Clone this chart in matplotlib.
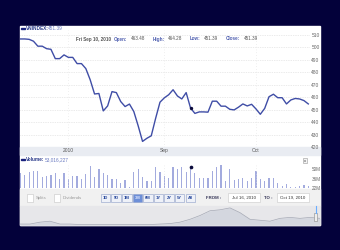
import matplotlib
matplotlib.use('Agg')
import matplotlib.pyplot as plt
from matplotlib.patches import Rectangle

W, H = 340, 250

# VN-Index close, one value per trading day, Jul 16 - Oct 19 2010
price = [506.8, 506.8, 506.5, 505.0, 501.0, 501.0, 499.0, 498.5, 491.0, 491.0,
         494.0, 492.0, 492.0, 487.0, 487.0, 483.0, 474.0, 462.6, 463.0, 449.0,
         453.0, 464.5, 463.7, 456.5, 452.5, 454.5, 448.5, 437.0, 424.5, 427.0,
         429.0, 443.0, 456.0, 459.5, 462.0, 466.0, 461.0, 458.6, 463.7, 451.39,
         447.0, 448.2, 448.2, 448.0, 456.8, 456.8, 452.8, 452.8, 450.3, 449.8,
         452.0, 454.6, 453.0, 454.3, 450.6, 446.3, 451.0, 460.4, 462.4, 459.6,
         459.6, 454.6, 457.8, 459.0, 458.6, 457.3, 454.6]

# volume in millions of shares
volume = [44.1, 41.6, 45.6, 48.0, 48.0, 38.1, 40.1, 42.0, 45.0, 36.0,
          44.1, 36.0, 40.5, 39.6, 35.1, 42.6, 55.1, 38.1, 50.1, 44.1,
          41.6, 35.5, 35.5, 30.0, 33.6, 24.0, 46.1, 50.1, 38.1, 33.0,
          33.0, 53.2, 46.1, 40.1, 37.0, 54.1, 50.1, 54.1, 45.6, 53.016227,
          44.1, 36.6, 36.6, 37.5, 48.0, 53.2, 56.6, 32.5, 50.1, 34.0,
          35.5, 37.5, 32.1, 37.5, 48.0, 35.1, 32.5, 37.5, 36.6, 30.0,
          25.0, 27.6, 24.0, 24.0, 25.0, 26.5, 24.5]

# hovered point (Fri Sep 10, 2010)
sel = 39
sel_date = 'Fri Sep 10, 2010'
sel_open = 463.48
sel_high = 464.28
sel_low = 451.39

month_idx = [11, 33, 54]
month_labels = ['2010', 'Sep', 'Oct']

price_ticks = [420, 430, 440, 450, 460, 470, 480, 490, 500, 510]
vol_ticks = [22, 36, 50]

# long-history series in the navigator strip
nav = [1, 1, 3, 4, 1, 1, 0.5, 0.5, 0.5, 0.5, 0.5, 0.5, 0.5, 0.5, 1, 1.5,
       3, 6, 10, 15, 16, 18, 13, 6, 5, 4, 7, 8, 7, 8, 7]

range_buttons = ['1D', '5D', '1M', '3M', '6M', '1Y', '2Y', '5Y', 'All']
active_button = '3M'
date_from = 'Jul 16, 2010'
date_to = 'Oct 19, 2010'

plt.rcParams['font.family'] = ['Liberation Sans', 'DejaVu Sans']

BG = '#03013a'
LINE = '#3f4da6'
BAR = '#a3abde'
DOT = '#0b0b3b'


def px_axes(fig, left, top, right, bottom):
    return fig.add_axes([left / W, 1 - bottom / H, (right - left) / W, (bottom - top) / H])


def clean(ax):
    for s in ax.spines.values():
        s.set_visible(False)


fig = plt.figure(figsize=(W / 100, H / 100), dpi=100, facecolor=BG)

# background panels
bg = px_axes(fig, 0, 0, W, H)
bg.set_xlim(0, W)
bg.set_ylim(H, 0)
bg.axis('off')
bg.add_patch(Rectangle((20, 26), 300, 199, color='white'))
bg.add_patch(Rectangle((20, 147), 300, 8, color='#e9ecf2'))
bg.add_patch(Rectangle((20, 189), 300, 17, color='#f1f1f1'))
bg.add_patch(Rectangle((20, 206), 300, 19, color='#e7e7ea'))

# price
ax = px_axes(fig, 20, 30, 310, 147)
ax.set_facecolor('none')
clean(ax)
x = list(range(len(price)))
for t in price_ticks[1:]:
    ax.axhline(t, color='#d6d6d6', lw=0.5, ls=(0, (1, 1.5)))
for m in month_idx:
    ax.axvline(m, color='#e2e2e2', lw=0.5, ls=(0, (1, 3)))
ax.plot(x, price, color=LINE, lw=1.0)
ax.scatter([sel], [price[sel]], s=6, color=DOT, zorder=3, linewidths=0)
ax.set_xlim(-0.09, 66.39)
ax.set_ylim(420, 514)
ax.set_yticks(price_ticks)
ax.set_yticklabels([str(t) for t in price_ticks])
ax.yaxis.tick_right()
ax.tick_params(axis='y', length=0, pad=1, labelsize=3.5, labelcolor='#666666')
ax.set_xticks(month_idx)
ax.set_xticklabels(month_labels)
ax.tick_params(axis='x', length=0, pad=1, labelsize=3.5, labelcolor='#555555')

# volume
vax = px_axes(fig, 20, 163, 310, 188)
vax.set_facecolor('none')
clean(vax)
for m in month_idx:
    vax.axvline(m, color='#e2e2e2', lw=0.5, ls=(0, (1, 3)))
vax.bar(x, volume, width=0.28, color=BAR)
vax.scatter([sel], [volume[sel]], s=7, color=DOT, zorder=3, linewidths=0)
vax.set_xlim(-0.09, 66.39)
vax.set_ylim(22, 59.6)
vax.set_xticks([])
vax.set_yticks(vol_ticks)
vax.set_yticklabels([f'{t}M' for t in vol_ticks])
vax.yaxis.tick_right()
vax.tick_params(axis='y', length=0, pad=1, labelsize=3.3, labelcolor='#666666')

# navigator
nax = px_axes(fig, 20, 206, 320, 225)
nax.axis('off')
nx = list(range(len(nav)))
nax.fill_between(nx, nav, 0, color='#d4d7df', lw=0)
nax.plot(nx, nav, color='#a5a9b5', lw=0.5)
nax.set_xlim(0, len(nav) - 1)
nax.set_ylim(0, 20)

# overlay: headers, controls
ov = px_axes(fig, 0, 0, W, H)
ov.set_xlim(0, W)
ov.set_ylim(H, 0)
ov.axis('off')

ov.add_patch(Rectangle((21, 27.8), 3.5, 1.6, color='#1a237e'))
ov.text(25.5, 28.6, 'VNINDEX:', fontsize=3.4, fontweight='bold', color='#2a3a8a', va='center')
ov.text(48, 28.6, f'{price[sel]:.2f}', fontsize=3.4, color='#6a7ac0', va='center')

info = [(sel_date, 76, '#555555'), ('Open:', 114, '#4f5fb0'), (f'{sel_open:.2f}', 131, '#555555'),
        ('High:', 153, '#4f5fb0'), (f'{sel_high:.2f}', 168, '#555555'),
        ('Low:', 190, '#4f5fb0'), (f'{sel_low:.2f}', 204, '#555555'),
        ('Close:', 226, '#4f5fb0'), (f'{price[sel]:.2f}', 244, '#555555')]
for txt, px, col in info:
    ov.text(px, 39, txt, fontsize=3.3, color=col, va='center',
            fontweight='bold' if col != '#555555' or txt == sel_date else 'normal')

ov.add_patch(Rectangle((21, 158.8), 3.5, 1.6, color='#1a237e'))
ov.text(25.5, 159.6, 'Volume:', fontsize=3.4, fontweight='bold', color='#2a3a8a', va='center')
ov.text(45, 159.6, f'{round(volume[sel] * 1e6):,}', fontsize=3.4, color='#6a7ac0', va='center')

ov.add_patch(Rectangle((302.7, 158.3), 4.6, 4.4, facecolor='#f4f4f4', edgecolor='#999999', lw=0.4))
ov.text(305, 160.5, 'x', fontsize=3, color='#333333', ha='center', va='center')

# checkboxes
ov.add_patch(Rectangle((26.7, 194), 6, 8, facecolor='white', edgecolor='#c4c4c4', lw=0.4))
ov.text(35.5, 198, 'Splits', fontsize=3.2, color='#999999', va='center')
ov.add_patch(Rectangle((54, 194), 6, 8, facecolor='white', edgecolor='#c4c4c4', lw=0.4))
ov.text(63, 198, 'Dividends', fontsize=3.2, color='#999999', va='center')

for i, b in enumerate(range_buttons):
    cx = 105.5 + i * 10.6
    on = b == active_button
    ov.add_patch(Rectangle((cx - 4.8, 193.5), 9.6, 8,
                           facecolor='#6d8fd8' if on else '#eef1f8',
                           edgecolor='#8d9dc8', lw=0.4))
    ov.text(cx, 197.6, b, fontsize=3, fontweight='bold',
            color='#dde6ff' if on else '#2a4a9c', ha='center', va='center')

ov.text(214, 197.8, 'FROM :', fontsize=3.2, fontweight='bold', color='#333355', ha='center', va='center')
ov.add_patch(Rectangle((228, 193), 31.5, 9, facecolor='white', edgecolor='#c8c8c8', lw=0.4))
ov.text(243.7, 197.6, date_from, fontsize=3.2, color='#333333', ha='center', va='center')
ov.text(268, 197.8, 'TO :', fontsize=3.2, fontweight='bold', color='#333355', ha='center', va='center')
ov.add_patch(Rectangle((277, 193), 31.5, 9, facecolor='white', edgecolor='#c8c8c8', lw=0.4))
ov.text(292.7, 197.6, date_to, fontsize=3.2, color='#333333', ha='center', va='center')

# navigator handle
ov.plot([315.6, 315.6], [205.5, 213], color='#6aaeff', lw=0.8)
ov.add_patch(Rectangle((313.8, 212.5), 3.6, 8, facecolor='#eeeeee', edgecolor='#888888', lw=0.4))

fig.savefig('out.png', dpi=100, facecolor=BG)
